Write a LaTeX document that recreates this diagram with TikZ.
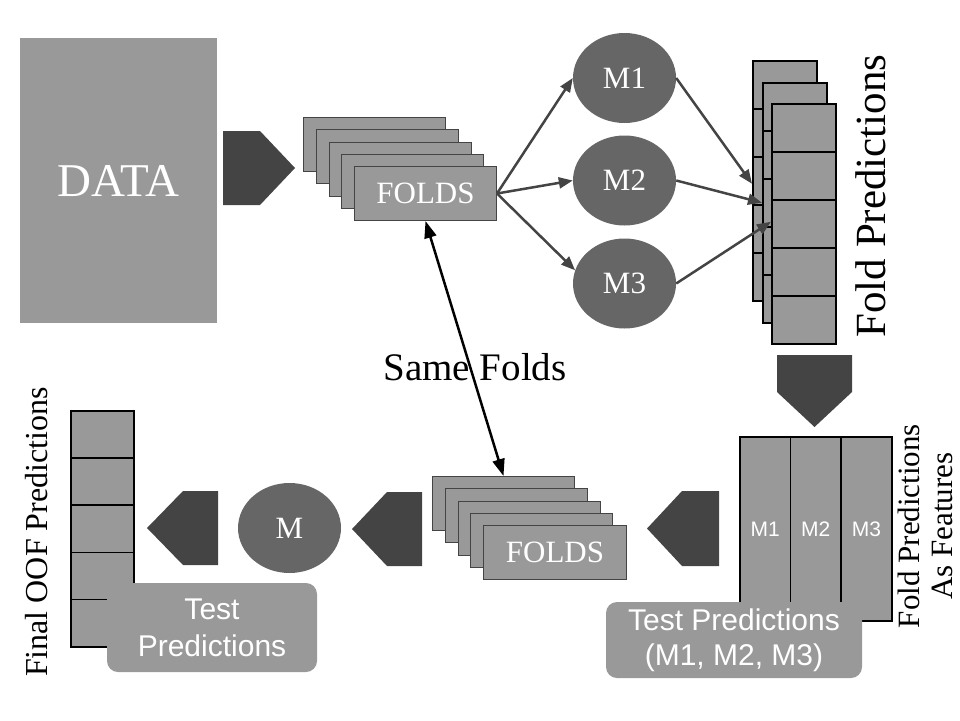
\documentclass[tikz,border=0pt]{standalone}
\usepackage{fontspec}
\setmainfont{Liberation Serif}
\newfontfamily\arialf{Liberation Sans}
\usetikzlibrary{shapes.geometric,arrows.meta}
\definecolor{lgray}{HTML}{999999}
\definecolor{mgray}{HTML}{666666}
\definecolor{dgray}{HTML}{444444}
\begin{document}
\begin{tikzpicture}[x=1pt,y=-1pt,
  foldbox/.style={draw=dgray,line width=1pt,fill=lgray,minimum width=142pt,minimum height=54pt,inner sep=0pt,anchor=north west,text=white,font=\fontsize{31}{31}\selectfont},
  model/.style={ellipse,fill=mgray,minimum width=103pt,minimum height=90pt,inner sep=0pt,text=white,font=\fontsize{31}{31}\selectfont},
  cell/.style={draw=black,line width=1.5pt,fill=lgray,minimum width=64pt,minimum height=48pt,inner sep=0pt,anchor=north west},
  col/.style={draw=black,line width=1.5pt,fill=lgray,minimum width=50.67pt,minimum height=184pt,inner sep=0pt,anchor=north west},
  collab/.style={inner sep=0pt,text=white,text height=15pt,text depth=0pt,font=\arialf\fontsize{21}{21}\selectfont},
  bigarrow/.style={fill=dgray},
  conn/.style={draw=dgray,line width=2.5pt,-{Triangle[length=14pt,width=11pt]}},
  roundbox/.style={fill=lgray,rounded corners=11pt,inner sep=0pt,text=white,align=center},
  label/.style={inner sep=0pt,text=black}
]
\useasboundingbox (0,0) rectangle (960,720);

% DATA
\node[fill=lgray,minimum width=197pt,minimum height=285pt,inner sep=0pt,anchor=north west] (data) at (20,38) {};
\node[inner sep=0pt,text=white,font=\fontsize{47}{47}\selectfont] (datatxt) at (data.center) {DATA};

% arrow 1
\path[bigarrow] (223,131) -- (260,131) -- (295,168) -- (260,205) -- (223,205) -- cycle;

% top folds
\foreach \i in {0,...,3} {
  \node[foldbox] (f\i) at ({303+12.75*\i},{117+12.25*\i}) {};
}
\node[foldbox] (f4) at (354,166) {FOLDS};

% models
\node[model] (m1) at (624.5,78) {M1};
\node[model] (m2) at (624.5,180.5) {M2};
\node[model] (m3) at (624.5,283.5) {M3};

% fold prediction stacks
\foreach \s/\x/\y in {1/752/60,2/762/82,3/771/103} {
  \foreach \c in {1,...,5} {
    \node[cell] (s\s c\c) at (\x,{\y+48*(\c-1)}) {};
  }
}

% connectors folds -> models
\draw[conn] (f4.east) -- (m1.west);
\draw[conn] (f4.east) -- (m2.west);
\draw[conn] (f4.east) -- (m3.165);
% models -> stacks
\draw[conn] (m1.east) -- ([yshift=-3pt]s1c3.west);
\draw[conn] (m2.east) -- (s2c3.west);
\draw[conn] (m3.east) -- ([yshift=2pt]s3c3.west);

\node[label,rotate=90,font=\fontsize{43}{43}\selectfont] (foldpred) at (871,196) {Fold Predictions};

% down arrow
\path[bigarrow] (777,355) -- (852,355) -- (852,392) -- (814.5,427) -- (777,392) -- cycle;

% table
\node[col] (t1) at (739,436) {};
\node[col] (t2) at (789.67,436) {};
\node[col] (t3) at (840.33,436) {};
\node[collab] (t1l) at (t1.center) {M1};
\node[collab] (t2l) at (t2.center) {M2};
\node[collab] (t3l) at (t3.center) {M3};
\node[roundbox,minimum width=256pt,minimum height=76pt,font=\arialf\fontsize{30}{35}\selectfont] (testr) at (734,640) {Test Predictions\\(M1, M2, M3)};

\node[label,rotate=90,align=center,font=\fontsize{31}{33}\selectfont] (featlab) at (925,526) {Fold Predictions\\As Features};

% arrow from table
\path[bigarrow] (719,491) -- (719,566) -- (682,566) -- (647,528.5) -- (682,491) -- cycle;

% bottom folds
\foreach \i in {0,...,3} {
  \node[foldbox] (b\i) at ({432+12.75*\i},{476+12.25*\i}) {};
}
\node[foldbox,minimum width=143pt] (b4) at (483,525) {FOLDS};

% arrow folds -> M
\path[bigarrow] (422,492) -- (422,566) -- (387,566) -- (352,529) -- (387,492) -- cycle;

% M
\node[model] (mm) at (289.5,528) {M};

% arrow M -> OOF
\path[bigarrow] (218,491) -- (218,565) -- (183,565) -- (147,528) -- (183,491) -- cycle;

% OOF stack
\foreach \c in {1,...,5} {
  \node[cell,minimum width=63pt,minimum height=47.2pt] (o\c) at (70,{410+47.2*(\c-1)}) {};
}
\node[roundbox,minimum width=210pt,minimum height=89pt,font=\arialf\fontsize{30}{37}\selectfont] (testl) at (212,627.5) {Test\\Predictions};

\node[label,rotate=90,font=\fontsize{32}{32}\selectfont] (ooflab) at (37,532) {Final OOF Predictions};

% same folds
\draw[line width=2.5pt,{Triangle[length=17pt,width=12pt]}-{Triangle[length=17pt,width=12pt]}] (f4.south) -- (b0.north);
\node[label,font=\fontsize{39}{39}\selectfont] (same) at (475,367) {Same Folds};
\end{tikzpicture}
\end{document}
